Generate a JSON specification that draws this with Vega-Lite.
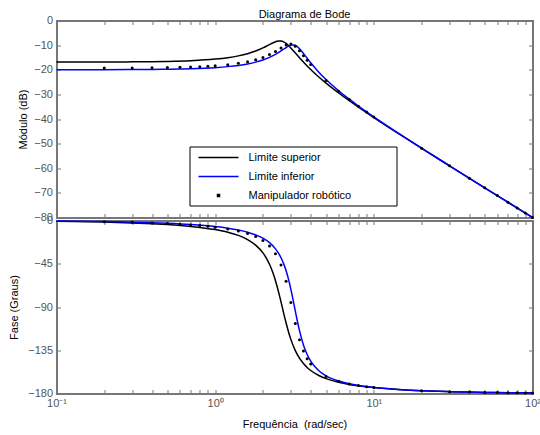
{
  "$schema": "https://vega.github.io/schema/vega-lite/v6.json",
  "padding": {"left": 8.5, "top": 8.5, "right": 0, "bottom": 0},
  "background": "white",
  "config": {
    "font": "Liberation Sans",
    "view": {"stroke": null},
    "axis": {
      "domainColor": "#777", "domainWidth": 2, "domainCap": "square",
      "tickColor": "#777", "tickWidth": 1, "tickSize": -4,
      "labelColor": "#555", "labelFontSize": 11, "labelPadding": 8,
      "titleFontSize": 11, "titleFontWeight": "normal", "titleColor": "black",
      "grid": false, "labelFlush": false, "labelOverlap": false
    }
  },
  "datasets": {
    "lines": [
      {"serie": "Limite superior", "w": 0.1, "mag": -16.89, "fase": -0.82},
      {"serie": "Limite superior", "w": 0.2, "mag": -16.86, "fase": -1.65},
      {"serie": "Limite superior", "w": 0.3, "mag": -16.80, "fase": -2.49},
      {"serie": "Limite superior", "w": 0.4, "mag": -16.72, "fase": -3.35},
      {"serie": "Limite superior", "w": 0.5, "mag": -16.61, "fase": -4.24},
      {"serie": "Limite superior", "w": 0.7, "mag": -16.32, "fase": -6.14},
      {"serie": "Limite superior", "w": 1.0, "mag": -15.68, "fase": -9.46},
      {"serie": "Limite superior", "w": 1.2, "mag": -15.10, "fase": -12.18},
      {"serie": "Limite superior", "w": 1.4, "mag": -14.37, "fase": -15.52},
      {"serie": "Limite superior", "w": 1.6, "mag": -13.48, "fase": -19.82},
      {"serie": "Limite superior", "w": 1.8, "mag": -12.40, "fase": -25.59},
      {"serie": "Limite superior", "w": 2.0, "mag": -11.14, "fase": -33.69},
      {"serie": "Limite superior", "w": 2.1, "mag": -10.46, "fase": -39.04},
      {"serie": "Limite superior", "w": 2.2, "mag": -9.78, "fase": -45.53},
      {"serie": "Limite superior", "w": 2.3, "mag": -9.15, "fase": -53.38},
      {"serie": "Limite superior", "w": 2.4, "mag": -8.63, "fase": -62.68},
      {"serie": "Limite superior", "w": 2.5, "mag": -8.33, "fase": -73.30},
      {"serie": "Limite superior", "w": 2.55, "mag": -8.29, "fase": -78.96},
      {"serie": "Limite superior", "w": 2.6, "mag": -8.34, "fase": -84.73},
      {"serie": "Limite superior", "w": 2.7, "mag": -8.68, "fase": -96.13},
      {"serie": "Limite superior", "w": 2.8, "mag": -9.32, "fase": -106.70},
      {"serie": "Limite superior", "w": 2.9, "mag": -10.17, "fase": -115.93},
      {"serie": "Limite superior", "w": 3.0, "mag": -11.14, "fase": -123.69},
      {"serie": "Limite superior", "w": 3.2, "mag": -13.17, "fase": -135.35},
      {"serie": "Limite superior", "w": 3.4, "mag": -15.10, "fase": -143.29},
      {"serie": "Limite superior", "w": 3.6, "mag": -16.86, "fase": -148.87},
      {"serie": "Limite superior", "w": 3.8, "mag": -18.44, "fase": -152.94},
      {"serie": "Limite superior", "w": 4.0, "mag": -19.87, "fase": -156.04},
      {"serie": "Limite superior", "w": 4.5, "mag": -22.92, "fase": -161.24},
      {"serie": "Limite superior", "w": 5, "mag": -25.43, "fase": -164.48},
      {"serie": "Limite superior", "w": 6, "mag": -29.43, "fase": -168.31},
      {"serie": "Limite superior", "w": 7, "mag": -32.58, "fase": -170.54},
      {"serie": "Limite superior", "w": 8, "mag": -35.20, "fase": -172.01},
      {"serie": "Limite superior", "w": 10, "mag": -39.42, "fase": -173.86},
      {"serie": "Limite superior", "w": 15, "mag": -46.79, "fase": -176.06},
      {"serie": "Limite superior", "w": 20, "mag": -51.90, "fase": -177.09},
      {"serie": "Limite superior", "w": 30, "mag": -59.02, "fase": -178.08},
      {"serie": "Limite superior", "w": 50, "mag": -67.94, "fase": -178.85},
      {"serie": "Limite superior", "w": 70, "mag": -73.79, "fase": -179.18},
      {"serie": "Limite superior", "w": 100, "mag": -79.99, "fase": -179.43},
      {"serie": "Limite inferior", "w": 0.1, "mag": -19.99, "fase": -0.57},
      {"serie": "Limite inferior", "w": 0.2, "mag": -19.97, "fase": -1.15},
      {"serie": "Limite inferior", "w": 0.3, "mag": -19.93, "fase": -1.73},
      {"serie": "Limite inferior", "w": 0.4, "mag": -19.87, "fase": -2.33},
      {"serie": "Limite inferior", "w": 0.5, "mag": -19.79, "fase": -2.94},
      {"serie": "Limite inferior", "w": 0.7, "mag": -19.59, "fase": -4.21},
      {"serie": "Limite inferior", "w": 1.0, "mag": -19.14, "fase": -6.34},
      {"serie": "Limite inferior", "w": 1.2, "mag": -18.73, "fase": -7.98},
      {"serie": "Limite inferior", "w": 1.4, "mag": -18.23, "fase": -9.88},
      {"serie": "Limite inferior", "w": 1.6, "mag": -17.63, "fase": -12.14},
      {"serie": "Limite inferior", "w": 1.8, "mag": -16.90, "fase": -14.91},
      {"serie": "Limite inferior", "w": 2.0, "mag": -16.02, "fase": -18.43},
      {"serie": "Limite inferior", "w": 2.2, "mag": -14.98, "fase": -23.09},
      {"serie": "Limite inferior", "w": 2.4, "mag": -13.75, "fase": -29.51},
      {"serie": "Limite inferior", "w": 2.5, "mag": -13.08, "fase": -33.69},
      {"serie": "Limite inferior", "w": 2.6, "mag": -12.37, "fase": -38.75},
      {"serie": "Limite inferior", "w": 2.7, "mag": -11.65, "fase": -44.89},
      {"serie": "Limite inferior", "w": 2.8, "mag": -10.97, "fase": -52.35},
      {"serie": "Limite inferior", "w": 2.9, "mag": -10.39, "fase": -61.26},
      {"serie": "Limite inferior", "w": 3.0, "mag": -10.00, "fase": -71.57},
      {"serie": "Limite inferior", "w": 3.05, "mag": -9.91, "fase": -77.12},
      {"serie": "Limite inferior", "w": 3.1, "mag": -9.90, "fase": -82.83},
      {"serie": "Limite inferior", "w": 3.15, "mag": -9.97, "fase": -88.59},
      {"serie": "Limite inferior", "w": 3.2, "mag": -10.13, "fase": -94.29},
      {"serie": "Limite inferior", "w": 3.3, "mag": -10.67, "fase": -105.09},
      {"serie": "Limite inferior", "w": 3.4, "mag": -11.46, "fase": -114.64},
      {"serie": "Limite inferior", "w": 3.6, "mag": -13.37, "fase": -129.43},
      {"serie": "Limite inferior", "w": 3.8, "mag": -15.33, "fase": -139.44},
      {"serie": "Limite inferior", "w": 4.0, "mag": -17.16, "fase": -146.31},
      {"serie": "Limite inferior", "w": 4.5, "mag": -20.98, "fase": -156.30},
      {"serie": "Limite inferior", "w": 5, "mag": -23.98, "fase": -161.57},
      {"serie": "Limite inferior", "w": 6, "mag": -28.52, "fase": -167.00},
      {"serie": "Limite inferior", "w": 7, "mag": -31.96, "fase": -169.82},
      {"serie": "Limite inferior", "w": 8, "mag": -34.74, "fase": -171.57},
      {"serie": "Limite inferior", "w": 10, "mag": -39.14, "fase": -173.66},
      {"serie": "Limite inferior", "w": 15, "mag": -46.67, "fase": -176.01},
      {"serie": "Limite inferior", "w": 20, "mag": -51.83, "fase": -177.06},
      {"serie": "Limite inferior", "w": 30, "mag": -58.99, "fase": -178.07},
      {"serie": "Limite inferior", "w": 50, "mag": -67.93, "fase": -178.85},
      {"serie": "Limite inferior", "w": 70, "mag": -73.79, "fase": -179.18},
      {"serie": "Limite inferior", "w": 100, "mag": -79.99, "fase": -179.43}
    ],
    "robot": [
      {"serie": "Manipulador robótico", "w": 0.2, "mag": -19.29, "fase": -1.24},
      {"serie": "Manipulador robótico", "w": 0.3, "mag": -19.24, "fase": -1.88},
      {"serie": "Manipulador robótico", "w": 0.4, "mag": -19.18, "fase": -2.52},
      {"serie": "Manipulador robótico", "w": 0.5, "mag": -19.10, "fase": -3.18},
      {"serie": "Manipulador robótico", "w": 0.6, "mag": -19.00, "fase": -3.86},
      {"serie": "Manipulador robótico", "w": 0.7, "mag": -18.88, "fase": -4.57},
      {"serie": "Manipulador robótico", "w": 0.8, "mag": -18.74, "fase": -5.31},
      {"serie": "Manipulador robótico", "w": 0.9, "mag": -18.58, "fase": -6.09},
      {"serie": "Manipulador robótico", "w": 1.0, "mag": -18.39, "fase": -6.91},
      {"serie": "Manipulador robótico", "w": 1.2, "mag": -17.95, "fase": -8.74},
      {"serie": "Manipulador robótico", "w": 1.4, "mag": -17.41, "fase": -10.87},
      {"serie": "Manipulador robótico", "w": 1.6, "mag": -16.75, "fase": -13.45},
      {"serie": "Manipulador robótico", "w": 1.8, "mag": -15.95, "fase": -16.67},
      {"serie": "Manipulador robótico", "w": 2.0, "mag": -14.99, "fase": -20.85},
      {"serie": "Manipulador robótico", "w": 2.2, "mag": -13.85, "fase": -26.51},
      {"serie": "Manipulador robótico", "w": 2.4, "mag": -12.54, "fase": -34.52},
      {"serie": "Manipulador robótico", "w": 2.6, "mag": -11.13, "fase": -46.24},
      {"serie": "Manipulador robótico", "w": 2.8, "mag": -9.92, "fase": -63.28},
      {"serie": "Manipulador robótico", "w": 3.0, "mag": -9.57, "fase": -85.24},
      {"serie": "Manipulador robótico", "w": 3.2, "mag": -10.50, "fase": -107.19},
      {"serie": "Manipulador robótico", "w": 3.4, "mag": -12.28, "fase": -124.19},
      {"serie": "Manipulador robótico", "w": 3.6, "mag": -14.27, "fase": -135.86},
      {"serie": "Manipulador robótico", "w": 3.8, "mag": -16.17, "fase": -143.79},
      {"serie": "Manipulador robótico", "w": 4.0, "mag": -17.89, "fase": -149.35},
      {"serie": "Manipulador robótico", "w": 5, "mag": -24.36, "fase": -162.39},
      {"serie": "Manipulador robótico", "w": 6, "mag": -28.76, "fase": -167.36},
      {"serie": "Manipulador robótico", "w": 7, "mag": -32.12, "fase": -170.01},
      {"serie": "Manipulador robótico", "w": 8, "mag": -34.86, "fase": -171.69},
      {"serie": "Manipulador robótico", "w": 9, "mag": -37.18, "fase": -172.85},
      {"serie": "Manipulador robótico", "w": 10, "mag": -39.21, "fase": -173.71},
      {"serie": "Manipulador robótico", "w": 20, "mag": -51.85, "fase": -177.07},
      {"serie": "Manipulador robótico", "w": 30, "mag": -59.00, "fase": -178.07},
      {"serie": "Manipulador robótico", "w": 40, "mag": -64.03, "fase": -178.56},
      {"serie": "Manipulador robótico", "w": 50, "mag": -67.93, "fase": -178.85},
      {"serie": "Manipulador robótico", "w": 60, "mag": -71.10, "fase": -179.04},
      {"serie": "Manipulador robótico", "w": 70, "mag": -73.79, "fase": -179.18},
      {"serie": "Manipulador robótico", "w": 80, "mag": -76.11, "fase": -179.28},
      {"serie": "Manipulador robótico", "w": 90, "mag": -78.16, "fase": -179.36},
      {"serie": "Manipulador robótico", "w": 100, "mag": -79.99, "fase": -179.43}
    ]
  },
  "spacing": 3,
  "bounds": "flush",
  "resolve": {"scale": {"color": "independent"}, "legend": {"color": "independent"}},
  "vconcat": [
    {
      "width": 476,
      "height": 197,
      "title": {"text": "Diagrama de Bode", "fontSize": 11, "fontWeight": "normal", "color": "black", "dx": 10, "offset": -5},
      "layer": [
        {
          "data": {"name": "lines"},
          "transform": [{"filter": "datum.serie == 'Limite superior'"}],
          "mark": {"type": "line", "strokeWidth": 1.5, "interpolate": "monotone"},
          "encoding": {
            "x": {"field": "w", "type": "quantitative", "scale": {"type": "log", "domain": [0.1, 100], "nice": false},
              "axis": {"orient": "bottom", "labels": false, "title": null,
                "values": [0.1,0.2,0.3,0.4,0.5,0.6,0.7,0.8,0.9,1,2,3,4,5,6,7,8,9,10,20,30,40,50,60,70,80,90,100],
                "encode": {"ticks": {"update": {"y2": {"signal": "(datum.value == 0.1 || datum.value == 1 || datum.value == 10 || datum.value == 100) ? -5 : -3"}}}}}},
            "y": {"field": "mag", "type": "quantitative", "scale": {"domain": [-80, 0], "nice": false},
              "axis": {"orient": "left", "title": "Módulo (dB)", "titlePadding": 5, "values": [-80,-70,-60,-50,-40,-30,-20,-10,0]}},
            "color": {"field": "serie", "type": "nominal",
              "scale": {"domain": ["Limite superior", "Limite inferior", "Manipulador robótico"], "range": ["#000000", "#0000ff", "#000000"]},
              "legend": {
                "orient": "none", "legendX": 133, "legendY": 126, "title": null,
                "symbolType": "M-4,0H4", "symbolSize": 100, "symbolStrokeWidth": 1.5, "symbolOffset": 18,
                "labelOffset": 24, "labelFontSize": 11, "labelColor": "black", "labelFont": "Liberation Sans",
                "padding": 5, "rowPadding": 8, "fillColor": "white", "strokeColor": "black",
                "labelExpr": "datum.label + '\u2800\u2800\u2800\u2800\u2800'",
                "encode": {"symbols": {"update": {
                  "shape": {"signal": "datum.value == 'Manipulador robótico' ? 'M-0.2,-0.2H0.2V0.2H-0.2Z' : 'M-4,0H4'"},
                  "stroke": {"scale": "color", "field": "value"},
                  "fill": {"scale": "color", "field": "value"},
                  "strokeWidth": {"value": 1.5},
                  "opacity": {"value": 1}
                }}}
              }
            }
          }
        },
        {
          "data": {"name": "lines"},
          "transform": [{"filter": "datum.serie == 'Limite inferior'"}],
          "mark": {"type": "line", "strokeWidth": 1.5, "interpolate": "monotone"},
          "encoding": {
            "x": {"field": "w", "type": "quantitative", "scale": {"type": "log", "domain": [0.1, 100], "nice": false},
              "axis": {"orient": "top", "labels": false, "title": null,
                "values": [0.1,0.2,0.3,0.4,0.5,0.6,0.7,0.8,0.9,1,2,3,4,5,6,7,8,9,10,20,30,40,50,60,70,80,90,100],
                "encode": {"ticks": {"update": {"y2": {"signal": "(datum.value == 0.1 || datum.value == 1 || datum.value == 10 || datum.value == 100) ? 5 : 3"}}}}}},
            "y": {"field": "mag", "type": "quantitative", "scale": {"domain": [-80, 0], "nice": false},
              "axis": {"orient": "right", "labels": false, "title": null, "values": [-80,-70,-60,-50,-40,-30,-20,-10,0]}},
            "color": {"field": "serie", "type": "nominal"}
          }
        },
        {
          "data": {"name": "robot"},
          "mark": {"type": "point", "filled": true, "size": 9, "opacity": 1},
          "encoding": {
            "x": {"field": "w", "type": "quantitative", "scale": {"type": "log", "domain": [0.1, 100], "nice": false}, "axis": null},
            "y": {"field": "mag", "type": "quantitative", "scale": {"domain": [-80, 0], "nice": false}, "axis": null},
            "color": {"field": "serie", "type": "nominal"}
          }
        }
      ]
    },
    {
      "width": 476,
      "height": 173,
      "layer": [
        {
          "data": {"name": "lines"},
          "transform": [{"filter": "datum.serie == 'Limite superior'"}],
          "mark": {"type": "line", "strokeWidth": 1.5, "interpolate": "monotone", "color": "#000000"},
          "encoding": {
            "x": {"field": "w", "type": "quantitative", "scale": {"type": "log", "domain": [0.1, 100], "nice": false},
              "axis": {"orient": "bottom", "title": "Frequência\u00a0 (rad/sec)", "titlePadding": 10,
                "values": [0.1,0.2,0.3,0.4,0.5,0.6,0.7,0.8,0.9,1,2,3,4,5,6,7,8,9,10,20,30,40,50,60,70,80,90,100],
                "labelExpr": "datum.value == 0.1 ? '10⁻¹' : datum.value == 1 ? '10⁰' : datum.value == 10 ? '10¹' : datum.value == 100 ? '10²' : ''",
                "encode": {"ticks": {"update": {"y2": {"signal": "(datum.value == 0.1 || datum.value == 1 || datum.value == 10 || datum.value == 100) ? -5 : -3"}}}}}},
            "y": {"field": "fase", "type": "quantitative", "scale": {"domain": [-180, 0], "nice": false},
              "axis": {"orient": "left", "title": "Fase (Graus)", "titlePadding": 8, "values": [-180,-135,-90,-45,0]}}
          }
        },
        {
          "data": {"name": "lines"},
          "transform": [{"filter": "datum.serie == 'Limite inferior'"}],
          "mark": {"type": "line", "strokeWidth": 1.5, "interpolate": "monotone", "color": "#0000ff"},
          "encoding": {
            "x": {"field": "w", "type": "quantitative", "scale": {"type": "log", "domain": [0.1, 100], "nice": false},
              "axis": {"orient": "top", "labels": false, "title": null,
                "values": [0.1,0.2,0.3,0.4,0.5,0.6,0.7,0.8,0.9,1,2,3,4,5,6,7,8,9,10,20,30,40,50,60,70,80,90,100],
                "encode": {"ticks": {"update": {"y2": {"signal": "(datum.value == 0.1 || datum.value == 1 || datum.value == 10 || datum.value == 100) ? 5 : 3"}}}}}},
            "y": {"field": "fase", "type": "quantitative", "scale": {"domain": [-180, 0], "nice": false},
              "axis": {"orient": "right", "labels": false, "title": null, "values": [-180,-135,-90,-45,0]}}
          }
        },
        {
          "data": {"name": "robot"},
          "mark": {"type": "point", "filled": true, "size": 9, "opacity": 1, "color": "#000000"},
          "encoding": {
            "x": {"field": "w", "type": "quantitative", "scale": {"type": "log", "domain": [0.1, 100], "nice": false}, "axis": null},
            "y": {"field": "fase", "type": "quantitative", "scale": {"domain": [-180, 0], "nice": false}, "axis": null}
          }
        }
      ]
    }
  ]
}
